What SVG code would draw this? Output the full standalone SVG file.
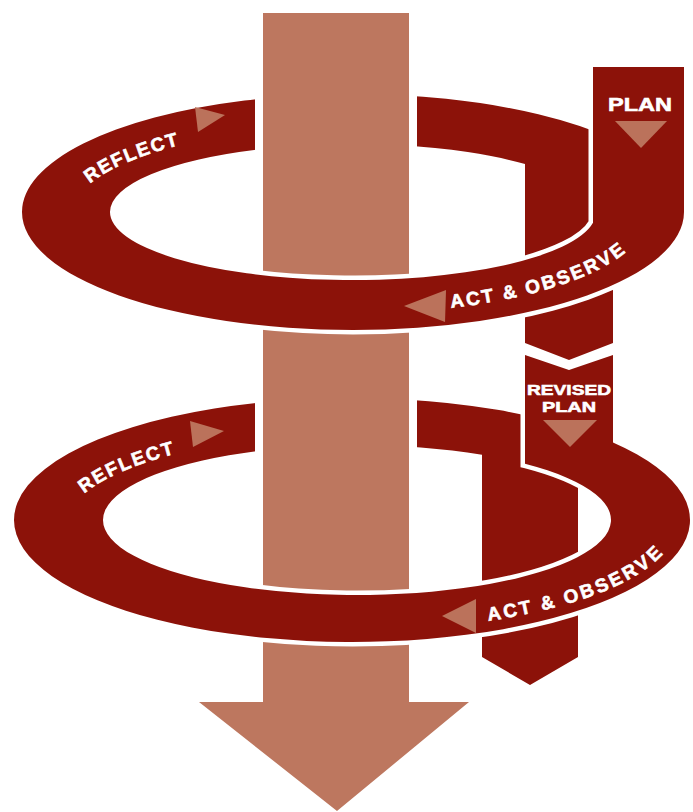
<svg xmlns="http://www.w3.org/2000/svg" width="693" height="812" viewBox="0 0 693 812">
<style>
.ring{fill:#8c1209}
.edge{fill:none;stroke:#ffffff;stroke-width:9}
.shaft{fill:#bd775f;stroke:#ffffff;stroke-width:16;paint-order:stroke}
.tri{fill:#bb725b}
.lbl{fill:#ffffff;stroke:#ffffff;stroke-width:0.6;font-family:"Liberation Sans",Arial,sans-serif;font-weight:bold;font-size:19px}
.sm{font-size:15px}
</style>
<defs>
<path id="p-r1-reflect" d="M 86 178 A 287 93 0 0 1 353 119"/>
<path id="p-r1-act" d="M 450 301 A 287 93 0 0 0 640 212"/>
<path id="p-r2-reflect" d="M 80 488 A 296 98.5 0 0 1 354.5 426.5"/>
<path id="p-r2-act" d="M 487 614 A 315 102 0 0 0 669.5 520"/>
</defs>

<g id="cycle1-back">
<path class="ring" d="M 22 212 A 331 118 0 0 1 613 139 L 613 343 L 569 360 L 525 343 L 525 164 A 243 68 0 0 0 110 212 Z"/>
</g>
<g id="cycle2-back">
<path class="ring" d="M 14 520 A 338 122 0 0 1 578 429.3 L 578 657 L 530 685 L 482 657 L 482 454.7 A 254 75 0 0 0 103 520 Z"/>
</g>

<g id="progress-arrow">
<polygon class="shaft" points="263,13 409,13 409,702 469,702 337,811 199,702 263,702"/>
</g>

<g id="cycle2-front">
<path class="edge" d="M 14 520 A 338 122 0 1 0 613 442.5 L 613 362"/>
<path class="edge" d="M 103 520 A 254 75 0 1 0 525 463.75 L 525 362"/>
<path class="ring" d="M 14 520 A 338 122 0 1 0 613 442.5 L 613 355 L 569 370 L 525 355 L 525 463.75 A 254 75 0 1 1 103 520 Z"/>
</g>

<g id="cycle1-front">
<path class="edge" d="M 22 212 A 331 118 0 0 0 684 212 L 684 70"/>
<path class="edge" d="M 110 212 A 243 68 0 0 0 593 222.7 L 593 70"/>
<path class="ring" d="M 22 212 A 331 118 0 0 0 684 212 L 684 67 L 593 67 L 593 222.7 A 243 68 0 0 1 110 212 Z"/>
</g>

<g id="plan">
<text class="lbl" x="640" y="111" text-anchor="middle" textLength="64" lengthAdjust="spacingAndGlyphs">PLAN</text>
<polygon class="tri" points="615,121 667,121 641,148"/>
</g>

<g id="reflect-1">
<text class="lbl" dominant-baseline="central"><textPath href="#p-r1-reflect" textLength="100" lengthAdjust="spacing">REFLECT</textPath></text>
<polygon class="tri" points="195,107 198,132 225,115"/>
</g>

<g id="act-observe-1">
<text class="lbl" dominant-baseline="central"><textPath href="#p-r1-act" textLength="182" lengthAdjust="spacing">ACT &amp; OBSERVE</textPath></text>
<polygon class="tri" points="404,306 446,290 445,322"/>
</g>

<g id="revised-plan">
<text class="lbl sm" x="569" y="395" text-anchor="middle" textLength="84" lengthAdjust="spacingAndGlyphs">REVISED</text>
<text class="lbl sm" x="569" y="412" text-anchor="middle" textLength="54" lengthAdjust="spacingAndGlyphs">PLAN</text>
<polygon class="tri" points="543,420 597,420 570,447"/>
</g>

<g id="reflect-2">
<text class="lbl" dominant-baseline="central"><textPath href="#p-r2-reflect" textLength="102" lengthAdjust="spacing">REFLECT</textPath></text>
<polygon class="tri" points="190,421 193,447 224,431"/>
</g>

<g id="act-observe-2">
<text class="lbl" dominant-baseline="central"><textPath href="#p-r2-act" textLength="186" lengthAdjust="spacing">ACT &amp; OBSERVE</textPath></text>
<polygon class="tri" points="442,616 476,599 476,633"/>
</g>
</svg>
